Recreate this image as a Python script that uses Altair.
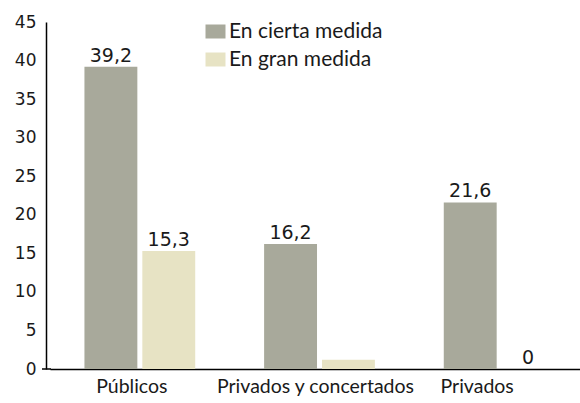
import altair as alt
import pandas as pd

categories = ["Públicos", "Privados y concertados", "Privados"]
series_names = ["En cierta medida", "En gran medida"]
cierta = [39.2, 16.2, 21.6]
gran = [15.3, 1.2, 0.0]
labels_cierta = ["39,2", "16,2", "21,6"]
labels_gran = ["15,3", "", "0"]
colors = ["#a8a99b", "#e7e3c4"]

rows = []
for i, c in enumerate(categories):
    rows.append({"cat": c, "serie": series_names[0], "value": cierta[i], "label": labels_cierta[i]})
    rows.append({"cat": c, "serie": series_names[1], "value": gran[i], "label": labels_gran[i]})
df = pd.DataFrame(rows)

label_shift = ("datum.value == 'Públicos' ? -8 : "
               "(datum.value == 'Privados' ? -22 : -4)")

x = alt.X("cat:N", sort=categories, title=None,
          scale=alt.Scale(paddingInner=0, paddingOuter=0, range=[4, 543]),
          axis=alt.Axis(labelAngle=0, ticks=False, labelFont="Lato", labelFontSize=19.5,
                        labelColor="#1a1a1a", labelPadding=8, domainColor="#000000",
                        domainWidth=1.5, labelLimit=0,
                        labelOffset=alt.ExprRef(expr=label_shift)))
xo = alt.XOffset("serie:N", sort=series_names,
                 scale=alt.Scale(paddingInner=0.086, paddingOuter=0.595))
y = alt.Y("value:Q", title=None,
          scale=alt.Scale(domain=[0, 45], nice=False),
          axis=alt.Axis(values=[0, 5, 10, 15, 20, 25, 30, 35, 40, 45], ticks=False,
                        grid=False, labelFont="DejaVu Sans", labelFontSize=17,
                        labelColor="#1a1a1a", labelPadding=10, domainColor="#000000",
                        domainWidth=1.5, labelOverlap=False, labelFlush=False))

color = alt.Color("serie:N", sort=series_names,
                  scale=alt.Scale(domain=series_names, range=colors),
                  legend=alt.Legend(title=None, orient="none", legendX=159, legendY=-1,
                                    labelFont="Lato", labelFontSize=21, labelColor="#1a1a1a",
                                    symbolType="M-1,-0.7L1,-0.7L1,0.7L-1,0.7Z",
                                    symbolSize=400, symbolStrokeWidth=0, symbolOpacity=1,
                                    rowPadding=6, labelOffset=3))

bars = alt.Chart(df).mark_bar().encode(x=x, xOffset=xo, y=y, color=color)
text = alt.Chart(df).mark_text(dy=-5, baseline="alphabetic", font="DejaVu Sans",
                                fontSize=19, color="#1a1a1a").encode(
    x=x, xOffset=xo, y=y, text="label:N")
stub = alt.Chart(pd.DataFrame({"value": [0]})).mark_rule(color="#000000", strokeWidth=1.5).encode(
    x=alt.value(-4), x2=alt.value(5), y=y)

chart = alt.layer(bars, text, stub).properties(
    width=534, height=347,
    autosize=alt.AutoSizeParams(type="none"),
    padding={"left": 46, "top": 22, "right": 0, "bottom": 34},
).configure_view(stroke=None)

chart.save("out.html", embed_options={"renderer": "svg", "actions": False})
